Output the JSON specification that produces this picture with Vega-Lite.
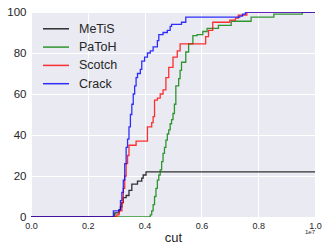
{
  "$schema": "https://vega.github.io/schema/vega-lite/v6.json",
  "width": 284,
  "height": 205,
  "autosize": {"type": "none"},
  "padding": {"left": 31, "top": 12, "right": 7, "bottom": 26},
  "background": "white",
  "config": {
    "font": "Liberation Sans",
    "view": {"fill": "#EAEAF2", "stroke": null},
    "axis": {"domain": false, "ticks": false, "gridColor": "white", "gridWidth": 1, "labelColor": "#262626", "titleColor": "#262626"}
  },
  "datasets": {
    "curves": [
      {"method": "MeTiS", "cut": 0.0, "pct": 0},
      {"method": "MeTiS", "cut": 0.295, "pct": 2},
      {"method": "MeTiS", "cut": 0.31, "pct": 3.5},
      {"method": "MeTiS", "cut": 0.315, "pct": 5},
      {"method": "MeTiS", "cut": 0.32, "pct": 7},
      {"method": "MeTiS", "cut": 0.325, "pct": 9.5},
      {"method": "MeTiS", "cut": 0.335, "pct": 10.5},
      {"method": "MeTiS", "cut": 0.345, "pct": 13},
      {"method": "MeTiS", "cut": 0.355, "pct": 16},
      {"method": "MeTiS", "cut": 0.375, "pct": 17.5},
      {"method": "MeTiS", "cut": 0.39, "pct": 19},
      {"method": "MeTiS", "cut": 0.395, "pct": 20.5},
      {"method": "MeTiS", "cut": 0.405, "pct": 22},
      {"method": "MeTiS", "cut": 1.0, "pct": 22},

      {"method": "PaToH", "cut": 0.0, "pct": 0},
      {"method": "PaToH", "cut": 0.42, "pct": 1},
      {"method": "PaToH", "cut": 0.425, "pct": 3},
      {"method": "PaToH", "cut": 0.43, "pct": 6},
      {"method": "PaToH", "cut": 0.435, "pct": 10},
      {"method": "PaToH", "cut": 0.44, "pct": 14},
      {"method": "PaToH", "cut": 0.445, "pct": 18},
      {"method": "PaToH", "cut": 0.45, "pct": 20.5},
      {"method": "PaToH", "cut": 0.455, "pct": 23},
      {"method": "PaToH", "cut": 0.46, "pct": 27},
      {"method": "PaToH", "cut": 0.465, "pct": 31},
      {"method": "PaToH", "cut": 0.47, "pct": 34},
      {"method": "PaToH", "cut": 0.475, "pct": 37.5},
      {"method": "PaToH", "cut": 0.48, "pct": 40.5},
      {"method": "PaToH", "cut": 0.485, "pct": 42.5},
      {"method": "PaToH", "cut": 0.49, "pct": 45.5},
      {"method": "PaToH", "cut": 0.495, "pct": 47.5},
      {"method": "PaToH", "cut": 0.5, "pct": 50.5},
      {"method": "PaToH", "cut": 0.505, "pct": 55},
      {"method": "PaToH", "cut": 0.51, "pct": 64},
      {"method": "PaToH", "cut": 0.52, "pct": 67.5},
      {"method": "PaToH", "cut": 0.525, "pct": 71.5},
      {"method": "PaToH", "cut": 0.53, "pct": 75.5},
      {"method": "PaToH", "cut": 0.545, "pct": 80.5},
      {"method": "PaToH", "cut": 0.555, "pct": 84.5},
      {"method": "PaToH", "cut": 0.57, "pct": 88.5},
      {"method": "PaToH", "cut": 0.585, "pct": 89},
      {"method": "PaToH", "cut": 0.605, "pct": 90.5},
      {"method": "PaToH", "cut": 0.62, "pct": 92},
      {"method": "PaToH", "cut": 0.66, "pct": 93.5},
      {"method": "PaToH", "cut": 0.705, "pct": 95.5},
      {"method": "PaToH", "cut": 0.775, "pct": 97.5},
      {"method": "PaToH", "cut": 0.855, "pct": 99},
      {"method": "PaToH", "cut": 0.955, "pct": 100},
      {"method": "PaToH", "cut": 1.0, "pct": 100},

      {"method": "Scotch", "cut": 0.0, "pct": 0},
      {"method": "Scotch", "cut": 0.302, "pct": 1},
      {"method": "Scotch", "cut": 0.31, "pct": 3},
      {"method": "Scotch", "cut": 0.32, "pct": 7},
      {"method": "Scotch", "cut": 0.325, "pct": 14},
      {"method": "Scotch", "cut": 0.33, "pct": 20},
      {"method": "Scotch", "cut": 0.335, "pct": 26},
      {"method": "Scotch", "cut": 0.34, "pct": 30},
      {"method": "Scotch", "cut": 0.345, "pct": 35},
      {"method": "Scotch", "cut": 0.37, "pct": 37},
      {"method": "Scotch", "cut": 0.41, "pct": 44},
      {"method": "Scotch", "cut": 0.425, "pct": 46},
      {"method": "Scotch", "cut": 0.43, "pct": 49},
      {"method": "Scotch", "cut": 0.435, "pct": 57},
      {"method": "Scotch", "cut": 0.445, "pct": 58},
      {"method": "Scotch", "cut": 0.455, "pct": 60},
      {"method": "Scotch", "cut": 0.465, "pct": 62},
      {"method": "Scotch", "cut": 0.475, "pct": 68},
      {"method": "Scotch", "cut": 0.485, "pct": 73},
      {"method": "Scotch", "cut": 0.5, "pct": 78},
      {"method": "Scotch", "cut": 0.515, "pct": 81},
      {"method": "Scotch", "cut": 0.525, "pct": 84.5},
      {"method": "Scotch", "cut": 0.615, "pct": 88},
      {"method": "Scotch", "cut": 0.625, "pct": 91},
      {"method": "Scotch", "cut": 0.64, "pct": 95},
      {"method": "Scotch", "cut": 0.7, "pct": 96},
      {"method": "Scotch", "cut": 0.72, "pct": 97},
      {"method": "Scotch", "cut": 0.73, "pct": 98.5},
      {"method": "Scotch", "cut": 0.76, "pct": 100},
      {"method": "Scotch", "cut": 1.0, "pct": 100},

      {"method": "Crack", "cut": 0.0, "pct": 0},
      {"method": "Crack", "cut": 0.29, "pct": 3},
      {"method": "Crack", "cut": 0.31, "pct": 3.5},
      {"method": "Crack", "cut": 0.315, "pct": 8},
      {"method": "Crack", "cut": 0.32, "pct": 12},
      {"method": "Crack", "cut": 0.325, "pct": 18},
      {"method": "Crack", "cut": 0.33, "pct": 26},
      {"method": "Crack", "cut": 0.335, "pct": 34},
      {"method": "Crack", "cut": 0.34, "pct": 38},
      {"method": "Crack", "cut": 0.345, "pct": 44},
      {"method": "Crack", "cut": 0.35, "pct": 50},
      {"method": "Crack", "cut": 0.355, "pct": 55},
      {"method": "Crack", "cut": 0.36, "pct": 60},
      {"method": "Crack", "cut": 0.365, "pct": 64},
      {"method": "Crack", "cut": 0.37, "pct": 68},
      {"method": "Crack", "cut": 0.375, "pct": 70},
      {"method": "Crack", "cut": 0.385, "pct": 72},
      {"method": "Crack", "cut": 0.39, "pct": 76},
      {"method": "Crack", "cut": 0.4, "pct": 78},
      {"method": "Crack", "cut": 0.41, "pct": 80},
      {"method": "Crack", "cut": 0.42, "pct": 81},
      {"method": "Crack", "cut": 0.43, "pct": 83},
      {"method": "Crack", "cut": 0.445, "pct": 86},
      {"method": "Crack", "cut": 0.45, "pct": 89},
      {"method": "Crack", "cut": 0.465, "pct": 90},
      {"method": "Crack", "cut": 0.48, "pct": 91},
      {"method": "Crack", "cut": 0.49, "pct": 93},
      {"method": "Crack", "cut": 0.495, "pct": 94},
      {"method": "Crack", "cut": 0.53, "pct": 95},
      {"method": "Crack", "cut": 0.545, "pct": 97.5},
      {"method": "Crack", "cut": 0.735, "pct": 98},
      {"method": "Crack", "cut": 0.745, "pct": 99},
      {"method": "Crack", "cut": 0.755, "pct": 100},
      {"method": "Crack", "cut": 1.0, "pct": 100}
    ],
    "exp": [{"label": "1e7", "cut": 1.0, "pct": 0}]
  },
  "layer": [
    {
      "data": {"name": "curves"},
      "mark": {"type": "line", "interpolate": "step-after", "strokeWidth": 1.3, "opacity": 0.8, "clip": true},
      "encoding": {
        "x": {"field": "cut", "type": "quantitative", "scale": {"domain": [0, 1]},
              "axis": {"values": [0, 0.2, 0.4, 0.6, 0.8, 1.0], "format": ".1f", "labelFlush": false, "labelFontSize": 9, "labelPadding": 4, "title": "cut", "titleFontSize": 13, "titleFontWeight": "normal", "titlePadding": 1}},
        "y": {"field": "pct", "type": "quantitative", "scale": {"domain": [0, 100]},
              "axis": {"values": [0, 20, 40, 60, 80, 100], "labelFontSize": 11.5, "labelPadding": 5, "title": null}},
        "color": {"field": "method", "type": "nominal",
                  "scale": {"domain": ["MeTiS", "PaToH", "Scotch", "Crack"], "range": ["#000000", "#008000", "#ff0000", "#0000ff"]},
                  "legend": {"orient": "none", "legendX": 17.5, "legendY": 9.3, "title": null, "padding": 0, "symbolType": "M-2,0H2", "symbolSize": 169, "symbolStrokeWidth": 1.5, "symbolOpacity": 0.8, "symbolFillColor": "transparent", "labelFontSize": 12.5, "labelColor": "#262626", "labelOffset": 15.5, "rowPadding": 4.3, "fillColor": null, "strokeColor": null}},
        "order": {"field": "cut", "type": "quantitative"}
      }
    },
    {
      "data": {"name": "exp"},
      "mark": {"type": "text", "align": "right", "baseline": "top", "dy": 12, "fontSize": 6, "color": "#262626"},
      "encoding": {
        "x": {"field": "cut", "type": "quantitative"},
        "y": {"field": "pct", "type": "quantitative"},
        "text": {"field": "label"}
      }
    }
  ]
}
